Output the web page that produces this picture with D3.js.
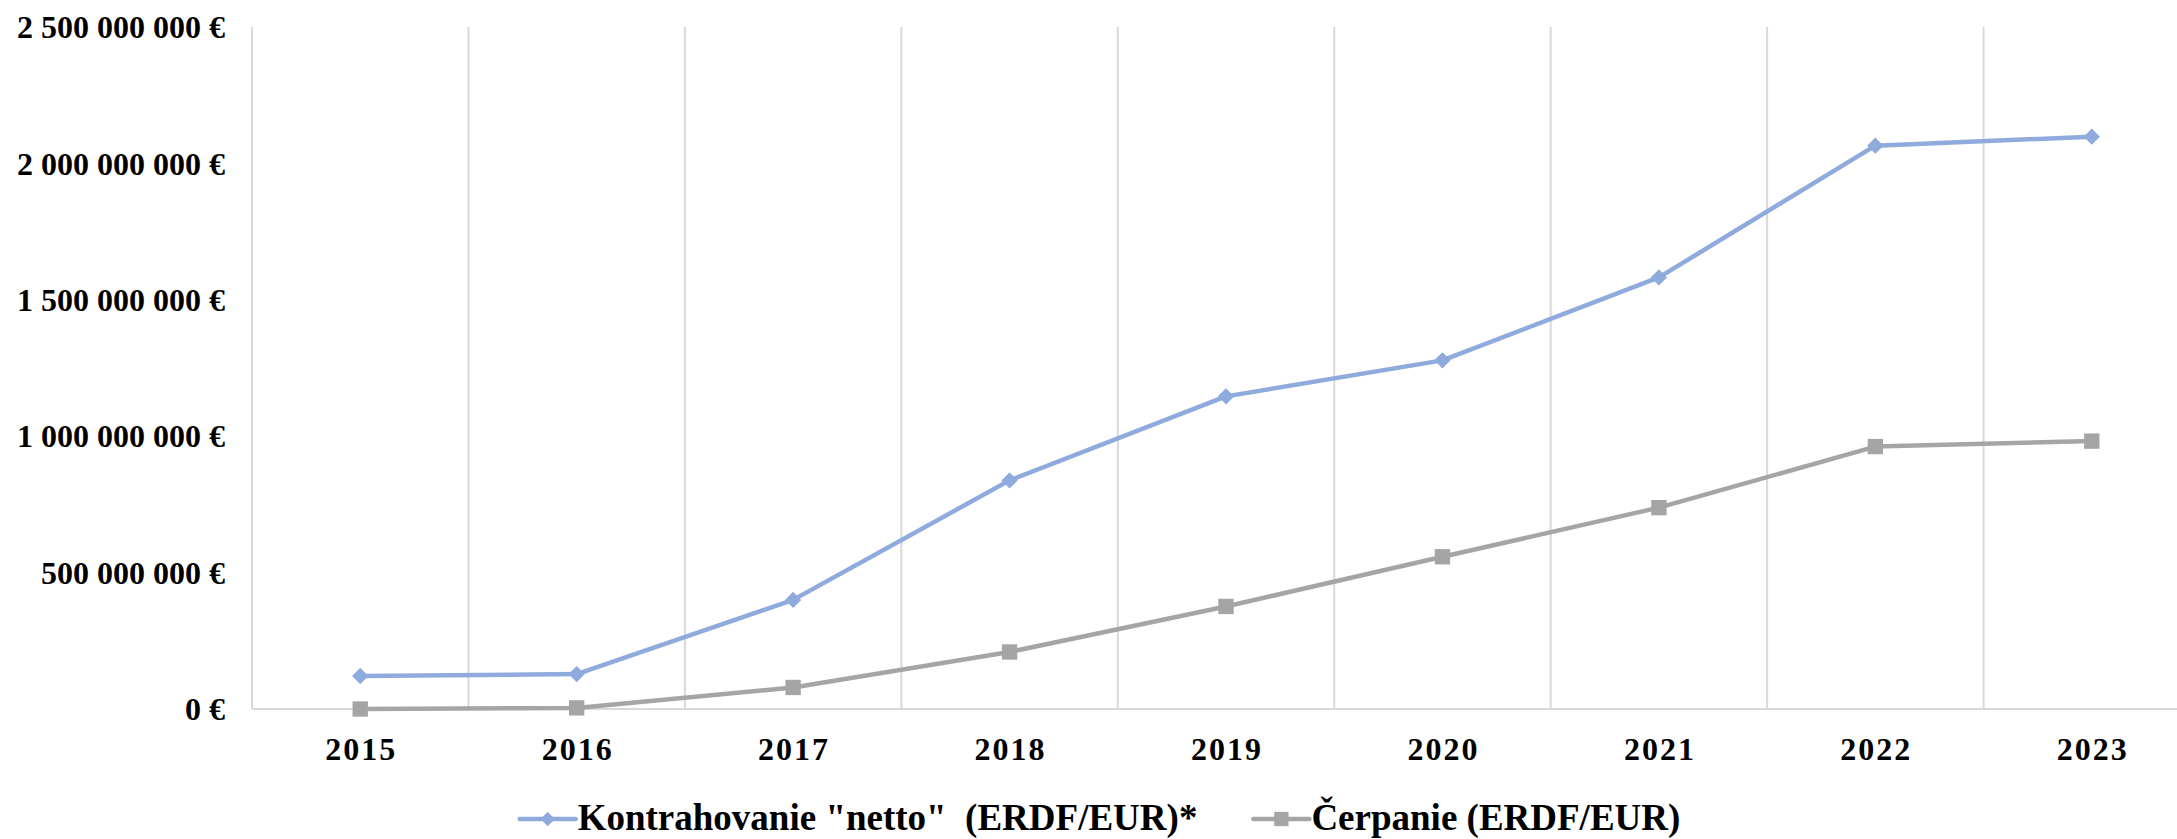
<!DOCTYPE html>
<html>
<head>
<meta charset="utf-8">
<script src="https://cdn.jsdelivr.net/npm/d3@7"></script>
<style>
  html, body { margin: 0; padding: 0; background: #fff; }
  svg { display: block; }
  text { font-family: "Liberation Serif", "Times New Roman", serif; font-weight: bold; fill: #000; }
</style>
</head>
<body>
<div id="chart"></div>
<script>
// ============ 数据 ============
const years = ['2015', '2016', '2017', '2018', '2019', '2020', '2021', '2022', '2023'];
const kontrahovanie = [121e6, 128e6, 400e6, 838e6, 1146e6, 1278e6, 1582e6, 2065e6, 2098e6];
const cerpanie = [0, 4e6, 79e6, 209e6, 376e6, 558e6, 738e6, 962e6, 982e6];
const yTicks = [0, 5e8, 1e9, 1.5e9, 2e9, 2.5e9];
const seriesNames = ['Kontrahovanie "netto"  (ERDF/EUR)*', 'Čerpanie (ERDF/EUR)'];

// ============ 尺寸 ============
const width = 2177;
const height = 839;
const plotLeft = 252, plotRight = 2200, plotTop = 27, plotBottom = 709;
const blue = '#8faadc';
const gray = '#a5a5a5';
const grid = '#d9d9d9';

const svg = d3.select('#chart')
  .append('svg')
  .attr('width', width)
  .attr('height', height);

const x = d3.scaleBand().domain(years).range([plotLeft, plotRight]).paddingInner(0).paddingOuter(0);
const y = d3.scaleLinear().domain([0, 2.5e9]).range([plotBottom, plotTop]);

const fmt = d3.formatLocale({ decimal: ',', thousands: '\u00a0', grouping: [3], currency: ['', ''] }).format(',.0f');

// 垂直网格线（类别边界）
const bounds = years.map(d => x(d)).concat([x(years[years.length - 1]) + x.bandwidth()]);
svg.append('g')
  .selectAll('line')
  .data(bounds)
  .join('line')
  .attr('x1', d => d).attr('x2', d => d)
  .attr('y1', plotTop).attr('y2', plotBottom)
  .attr('stroke', grid)
  .attr('stroke-width', 2);

// 横轴基线
svg.append('line')
  .attr('x1', plotLeft).attr('x2', plotRight)
  .attr('y1', y(0)).attr('y2', y(0))
  .attr('stroke', grid)
  .attr('stroke-width', 2);

// Y 轴标签
svg.append('g')
  .selectAll('text')
  .data(yTicks)
  .join('text')
  .attr('x', 225)
  .attr('y', d => y(d))
  .attr('dy', '0.35em')
  .attr('text-anchor', 'end')
  .style('font-size', '32px')
  .text(d => fmt(d) + ' €');

// X 轴标签
svg.append('g')
  .selectAll('text')
  .data(years)
  .join('text')
  .attr('x', d => x(d) + x.bandwidth() / 2 + 1)
  .attr('y', 760)
  .attr('text-anchor', 'middle')
  .style('font-size', '32px')
  .style('letter-spacing', '2px')
  .text(d => d);

// ============ 折线 ============
const cx = d => x(d) + x.bandwidth() / 2;
const line = d3.line().x((d, i) => cx(years[i])).y(d => y(d));

const series = [
  { values: kontrahovanie, color: blue, symbol: d3.symbolDiamond2, size: 170 },
  { values: cerpanie, color: gray, symbol: d3.symbolSquare2, size: 300 }
];

series.forEach(s => {
  svg.append('path')
    .datum(s.values)
    .attr('d', line)
    .attr('fill', 'none')
    .attr('stroke', s.color)
    .attr('stroke-width', 4.5)
    .attr('stroke-linejoin', 'round');

  svg.append('g')
    .selectAll('path')
    .data(s.values)
    .join('path')
    .attr('transform', (d, i) => `translate(${cx(years[i])},${y(d)})`)
    .attr('d', d3.symbol().type(s.symbol).size(s.size))
    .attr('fill', s.color);
});

// ============ 图例 ============
const legend = svg.append('g');
let lx = 0;
series.forEach((s, i) => {
  const g = legend.append('g');
  g.append('line')
    .attr('x1', 0).attr('x2', 56)
    .attr('y1', 0).attr('y2', 0)
    .attr('stroke', s.color)
    .attr('stroke-width', 4.5)
    .attr('stroke-linecap', 'round');
  g.append('path')
    .attr('transform', 'translate(28,0)')
    .attr('d', d3.symbol().type(s.symbol).size(i === 0 ? 130 : 260))
    .attr('fill', s.color);
  const t = g.append('text')
    .attr('x', 58)
    .attr('y', 11)
    .style('font-size', '37px')
    .style('white-space', 'pre')
    .text(seriesNames[i]);
  const w = 58 + t.node().getComputedTextLength();
  g.attr('transform', `translate(${lx},819)`);
  lx += w + 56;
});
const total = lx - 56;
legend.attr('transform', `translate(${1100 - total / 2},0)`);
</script>
</body>
</html>
